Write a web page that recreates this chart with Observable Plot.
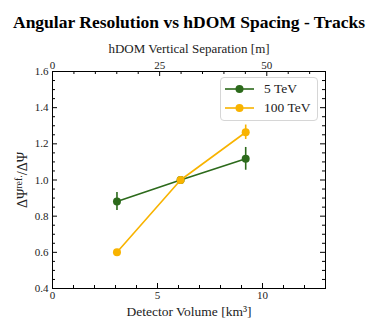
<!DOCTYPE html>
<html><head><meta charset="utf-8">
<script src="https://cdn.jsdelivr.net/npm/d3@7"></script>
<script src="https://cdn.jsdelivr.net/npm/@observablehq/plot@0.6"></script>
<style>
body{margin:0;background:#fff;}
#c{position:relative;width:377px;height:327px;font-family:"Liberation Serif",serif;}
#ylab{position:absolute;left:22px;top:180px;transform:translate(-50%,-50%) rotate(-90deg);white-space:nowrap;font-size:14px;font-family:"Liberation Serif",serif;color:#222;}
#ylab sup{font-size:10px;}
#leg{position:absolute;left:220px;top:77px;width:96px;height:42px;border:1px solid #d6d6d6;border-radius:4px;background:rgba(255,255,255,0.85);font-size:13.5px;font-family:"Liberation Serif",serif;color:#222;}
.row{position:absolute;left:0;height:16px;display:flex;align-items:center;}
.row svg{margin-left:4px;}
.row span{margin-left:10px;}
</style>
</head><body><div id="c"></div>
<script>
const volumes = [3.07, 6.1, 9.2];
const res5TeV = [0.881, 1.0, 1.117];
const err5TeV = [0.05, 0, 0.063];
const res100TeV = [0.60, 1.0, 1.264];
const err100TeV = [0, 0, 0.04];
const seriesNames = ["5 TeV", "100 TeV"];
const seriesColors = ["#2c6a1b", "#f8b300"];
const xMajor = [0, 5, 10];
const xMinor = [1,2,3,4,6,7,8,9,11,12];
const sepPerVol = 4.9; // hDOM separation [m] per km^3 on the top axis
const topMajor = [0, 25, 50];
const topMinor = [5,10,15,20,30,35,40,45,55,60];
const yMajor = [0.4,0.6,0.8,1.0,1.2,1.4,1.6];
const yMinor = [0.45,0.5,0.55,0.65,0.7,0.75,0.85,0.9,0.95,1.05,1.1,1.15,1.25,1.3,1.35,1.45,1.5,1.55];

const rows = [];
volumes.forEach((v,i) => rows.push({s: seriesNames[0], v, y: res5TeV[i], e: err5TeV[i]}));
volumes.forEach((v,i) => rows.push({s: seriesNames[1], v, y: res100TeV[i], e: err100TeV[i]}));

const W = 377, H = 327, mL = 52, mR = 52, mT = 71, mB = 39;
const fw = W - mL - mR, fh = H - mT - mB;
const font = "Liberation Serif";
const blk = "#000";

const marks = [];
for (let k = 0; k < 2; k++) {
  const d = rows.filter(r => r.s === seriesNames[k]);
  marks.push(Plot.line(d, {x: "v", y: "y", stroke: seriesColors[k], strokeWidth: 1.6}));
  marks.push(Plot.ruleX(d.filter(r => r.e > 0), {x: "v", y1: r => r.y - r.e, y2: r => r.y + r.e, stroke: seriesColors[k], strokeWidth: 1.6}));
  marks.push(Plot.dot(d, {x: "v", y: "y", r: 4, fill: seriesColors[k], stroke: "none"}));
}

const plot = Plot.plot({
  width: W, height: H,
  marginLeft: mL, marginRight: mR, marginTop: mT, marginBottom: mB,
  style: {fontFamily: font, fontSize: "11px", color: "#222", background: "#fff"},
  x: {domain: [0, 13], axis: null},
  y: {domain: [0.4, 1.6], axis: null},
  marks: [
    ...marks,
    Plot.frame({stroke: blk, strokeWidth: 1}),
    Plot.tickX(xMajor, {x: d => d, insetTop: fh - 5, stroke: blk}),
    Plot.tickX(xMinor, {x: d => d, insetTop: fh - 3, stroke: blk}),
    Plot.tickX(topMajor, {x: d => d / sepPerVol, insetBottom: fh - 5, stroke: blk}),
    Plot.tickX(topMinor, {x: d => d / sepPerVol, insetBottom: fh - 3, stroke: blk}),
    Plot.tickY(yMajor, {y: d => d, insetRight: fw - 5, stroke: blk}),
    Plot.tickY(yMinor, {y: d => d, insetRight: fw - 3, stroke: blk}),
    Plot.tickY(yMajor, {y: d => d, insetLeft: fw - 5, stroke: blk}),
    Plot.tickY(yMinor, {y: d => d, insetLeft: fw - 3, stroke: blk}),
    Plot.axisX({anchor: "bottom", ticks: xMajor, tickSize: 0, tickPadding: 3, label: null, tickFormat: d => String(d)}),
    Plot.axisX({anchor: "top", ticks: topMajor.map(m => m / sepPerVol), tickSize: 0, tickPadding: 3, label: null, tickFormat: d => String(Math.round(d * sepPerVol))}),
    Plot.axisY({anchor: "left", ticks: yMajor, tickSize: 0, tickPadding: 4, label: null, tickFormat: d3.format(".1f")}),
    Plot.text(["Angular Resolution vs hDOM Spacing - Tracks"], {frameAnchor: "top", dy: -56, fontSize: 17.5, fontWeight: "bold", fill: "#000"}),
    Plot.text(["hDOM Vertical Separation [m]"], {frameAnchor: "top", dy: -28, fontSize: 13, fill: "#222"}),
    Plot.text(["Detector Volume [km³]"], {frameAnchor: "bottom", dy: 27, fontSize: 13.5, fill: "#222"})
  ]
});
const c = document.getElementById("c");
c.appendChild(plot);

const yl = document.createElement("div");
yl.id = "ylab";
yl.innerHTML = "ΔΨ<sup>ref.</sup>/ΔΨ";
c.appendChild(yl);

const leg = document.createElement("div");
leg.id = "leg";
seriesNames.forEach((n, k) => {
  const row = document.createElement("div");
  row.className = "row";
  row.style.top = (k === 0 ? 3 : 22) + "px";
  row.innerHTML = `<svg width="29" height="10"><line x1="0" x2="29" y1="5" y2="5" stroke="${seriesColors[k]}" stroke-width="1.6"/><circle cx="14.5" cy="5" r="4" fill="${seriesColors[k]}"/></svg><span>${n}</span>`;
  leg.appendChild(row);
});
c.appendChild(leg);
</script>
</body></html>
